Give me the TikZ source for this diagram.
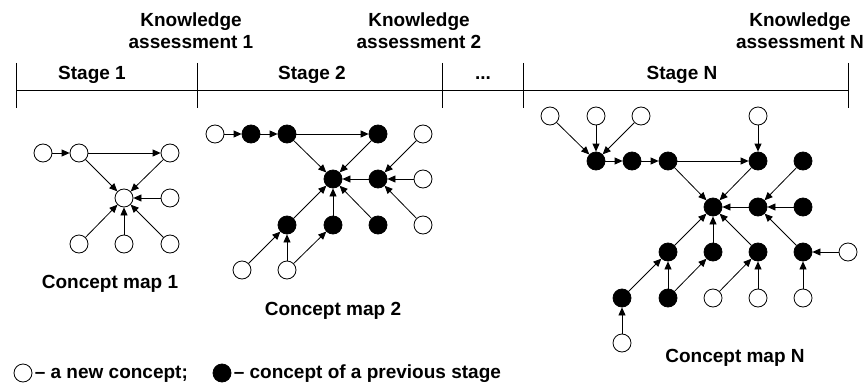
\documentclass[tikz,border=0pt]{standalone}
\usepackage{fontspec}
\setmainfont{Liberation Sans}
\usetikzlibrary{arrows.meta}

\begin{document}
\begin{tikzpicture}[x=1pt, y=-1pt, >={Triangle[length=8pt,width=7pt]}, line width=0.8pt,
    wc/.style={circle, draw, fill=white, minimum size=18pt, inner sep=0pt},
    bc/.style={circle, draw, fill=black, minimum size=18pt, inner sep=0pt},
    lbl/.style={font=\fontsize{19}{22}\selectfont\bfseries, anchor=base, inner sep=0pt},
    hd/.style={lbl, align=center, anchor=north}]
    \useasboundingbox (0,0) rectangle (866,385);

    % time axis
    \coordinate (T0) at (16,90);
    \coordinate (T1) at (197,90);
    \coordinate (T2) at (442,90);
    \coordinate (T3) at (523,90);
    \coordinate (T4) at (848,90);
    \draw (T0) -- (T4);
    \foreach \t in {T0,T1,T2,T3,T4}
        \draw (\t) ++(0,-27) -- ++(0,45);

    \node (S1) at (92,80) [lbl] {Stage 1};
    \node (S2) at (312,80) [lbl] {Stage 2};
    \node (S3) at (483,80) [lbl] {\textbf{...}};
    \node (SN) at (682,80) [lbl] {Stage N};

    \node (K1) at (191,12) [hd] {Knowledge\\assessment 1};
    \node (K2) at (419,12) [hd] {Knowledge\\assessment 2};
    \node (KN) at (800,12) [hd] {Knowledge\\assessment N};

    % concept map 1
    \node (p1) at (43,153) [wc] {};
    \node (p2) at (79,153) [wc] {};
    \node (p3) at (170,153) [wc] {};
    \node (p0) at (124,198) [wc] {};
    \node (p4) at (170,198) [wc] {};
    \node (p5) at (79,244) [wc] {};
    \node (p6) at (124,244) [wc] {};
    \node (p7) at (170,244) [wc] {};

    \draw[->] (p1) -- (p2);
    \draw[->] (p2) -- (p3);
    \foreach \s in {p2,p3,p4,p5,p6,p7}
        \draw[->] (\s) -- (p0);

    \node (C1) at (110,288) [lbl] {Concept map 1};

    % concept map 2
    \node (q1) at (215,134) [wc] {};
    \node (q2) at (251,134) [bc] {};
    \node (q3) at (287,134) [bc] {};
    \node (q4) at (378,134) [bc] {};
    \node (q5) at (423,134) [wc] {};
    \node (q0) at (333,179) [bc] {};
    \node (q6) at (378,179) [bc] {};
    \node (q7) at (423,179) [wc] {};
    \node (q8) at (287,225) [bc] {};
    \node (q9) at (333,225) [bc] {};
    \node (q10) at (378,225) [bc] {};
    \node (q11) at (423,225) [wc] {};
    \node (q12) at (242,270) [wc] {};
    \node (q13) at (287,270) [wc] {};

    \draw[->] (q1) -- (q2);
    \draw[->] (q2) -- (q3);
    \draw[->] (q3) -- (q4);
    \foreach \s in {q3,q4,q6,q8,q9,q10}
        \draw[->] (\s) -- (q0);
    \foreach \s in {q5,q7,q11}
        \draw[->] (\s) -- (q6);
    \draw[->] (q12) -- (q8);
    \draw[->] (q13) -- (q8);
    \draw[->] (q13) -- (q9);

    \node (C2) at (333,315) [lbl] {Concept map 2};

    % concept map N
    \node (n1) at (550,116) [wc] {};
    \node (n2) at (596,116) [wc] {};
    \node (n3) at (641,116) [wc] {};
    \node (n4) at (758,116) [wc] {};
    \node (n5) at (596,161) [bc] {};
    \node (n6) at (632,161) [bc] {};
    \node (n7) at (668,161) [bc] {};
    \node (n8) at (758,161) [bc] {};
    \node (n9) at (803,161) [bc] {};
    \node (n0) at (713,207) [bc] {};
    \node (n10) at (758,207) [bc] {};
    \node (n11) at (803,207) [bc] {};
    \node (n12) at (668,252) [bc] {};
    \node (n13) at (713,252) [bc] {};
    \node (n14) at (758,252) [bc] {};
    \node (n15) at (803,252) [bc] {};
    \node (n16) at (848,252) [wc] {};
    \node (n17) at (622,298) [bc] {};
    \node (n18) at (668,298) [bc] {};
    \node (n19) at (713,298) [wc] {};
    \node (n20) at (758,298) [wc] {};
    \node (n21) at (803,298) [wc] {};
    \node (n22) at (622,343) [wc] {};

    \foreach \s in {n1,n2,n3}
        \draw[->] (\s) -- (n5);
    \draw[->] (n5) -- (n6);
    \draw[->] (n6) -- (n7);
    \draw[->] (n7) -- (n8);
    \draw[->] (n4) -- (n8);
    \foreach \s in {n7,n8,n10,n12,n13,n14}
        \draw[->] (\s) -- (n0);
    \foreach \s in {n9,n11,n15}
        \draw[->] (\s) -- (n10);
    \draw[->] (n16) -- (n15);
    \draw[->] (n17) -- (n12);
    \draw[->] (n18) -- (n12);
    \draw[->] (n18) -- (n13);
    \draw[->] (n19) -- (n14);
    \draw[->] (n20) -- (n14);
    \draw[->] (n21) -- (n15);
    \draw[->] (n22) -- (n17);

    \node (CN) at (735,362) [lbl] {Concept map N};

    % legend
    \node (L1) at (23,373) [wc] {};
    \node (L1t) at (L1.east) [lbl, anchor=base west, yshift=-5pt, xshift=2pt] {-- a new concept;};
    \node (L2) at (222,373) [bc] {};
    \node (L2t) at (L2.east) [lbl, anchor=base west, yshift=-5pt, xshift=2pt] {-- concept of a previous stage};
\end{tikzpicture}
\end{document}
